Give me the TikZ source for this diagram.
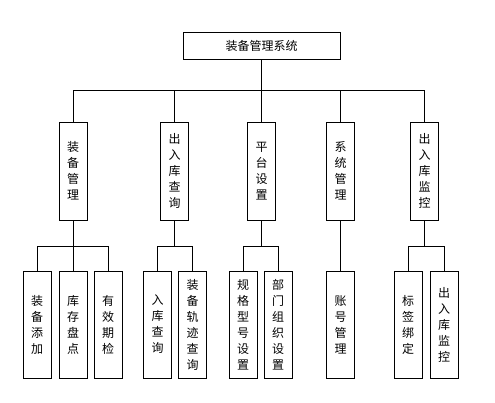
\documentclass[tikz,border=0pt]{standalone}
\usepackage{fontspec}
\newfontfamily\cjk{Noto Sans CJK SC}
\usetikzlibrary{positioning}

\begin{document}
\begin{tikzpicture}[
  x=1pt, y=-1pt,
  box/.style={draw, line width=0.9pt, inner sep=0pt, align=center,
    font=\cjk\fontsize{12}{16}\selectfont},
  midbox/.style={box, minimum width=28pt, minimum height=98pt},
  leafbox/.style={box, minimum width=28pt, minimum height=107pt},
  every path/.style={line width=0.8pt}
]
\useasboundingbox (0,0) rectangle (495,403);
\coordinate (high) at (0,90);
\coordinate (low) at (0,246);

% top
\node[box, minimum width=157pt, minimum height=27pt] (sys) at (261.5,45.5) {装备管理系统};

% second level
\node[midbox] (m1) at (73,171)    {装\\备\\管\\理};
\node[midbox] (m2) at (174.5,171) {出\\入\\库\\查\\询};
\node[midbox] (m3) at (261.5,171) {平\\台\\设\\置};
\node[midbox] (m4) at (340.5,171) {系\\统\\管\\理};
\node[midbox] (m5) at (424.5,171) {出\\入\\库\\监\\控};

% leaves
\node[leafbox] (a1) at (37,324.5)    {装\\备\\添\\加};
\node[leafbox] (a2) at (73,324.5)    {库\\存\\盘\\点};
\node[leafbox] (a3) at (108,324.5)   {有\\效\\期\\检};
\node[leafbox] (b1) at (157.5,324.5) {入\\库\\查\\询};
\node[leafbox] (b2) at (192.5,324.5) {装\\备\\轨\\迹\\查\\询};
\node[leafbox] (c1) at (243,324.5)   {规\\格\\型\\号\\设\\置};
\node[leafbox] (c2) at (278,324.5)   {部\\门\\组\\织\\设\\置};
\node[leafbox] (d1) at (340.5,324.5) {账\\号\\管\\理};
\node[leafbox] (e1) at (408,324.5)   {标\\签\\绑\\定};
\node[leafbox] (e2) at (444,324.5)   {出\\入\\库\\监\\控};

% connectors
\draw (sys.south) -- (sys.south |- high);
\draw (m1.north) |- (high -| m5.north) -- (m5.north);
\foreach \m in {m2,m3,m4}
  \draw (\m.north) -- (\m.north |- high);
\foreach \m in {m1,m2,m3,m4,m5}
  \draw (\m.south) -- (\m.south |- low);
\foreach \l/\r in {a1/a3,b1/b2,c1/c2,e1/e2}
  \draw (\l.north) |- (low -| \r.north) -- (\r.north);
\foreach \n in {a2,d1}
  \draw (\n.north) -- (\n.north |- low);
\end{tikzpicture}
\end{document}
